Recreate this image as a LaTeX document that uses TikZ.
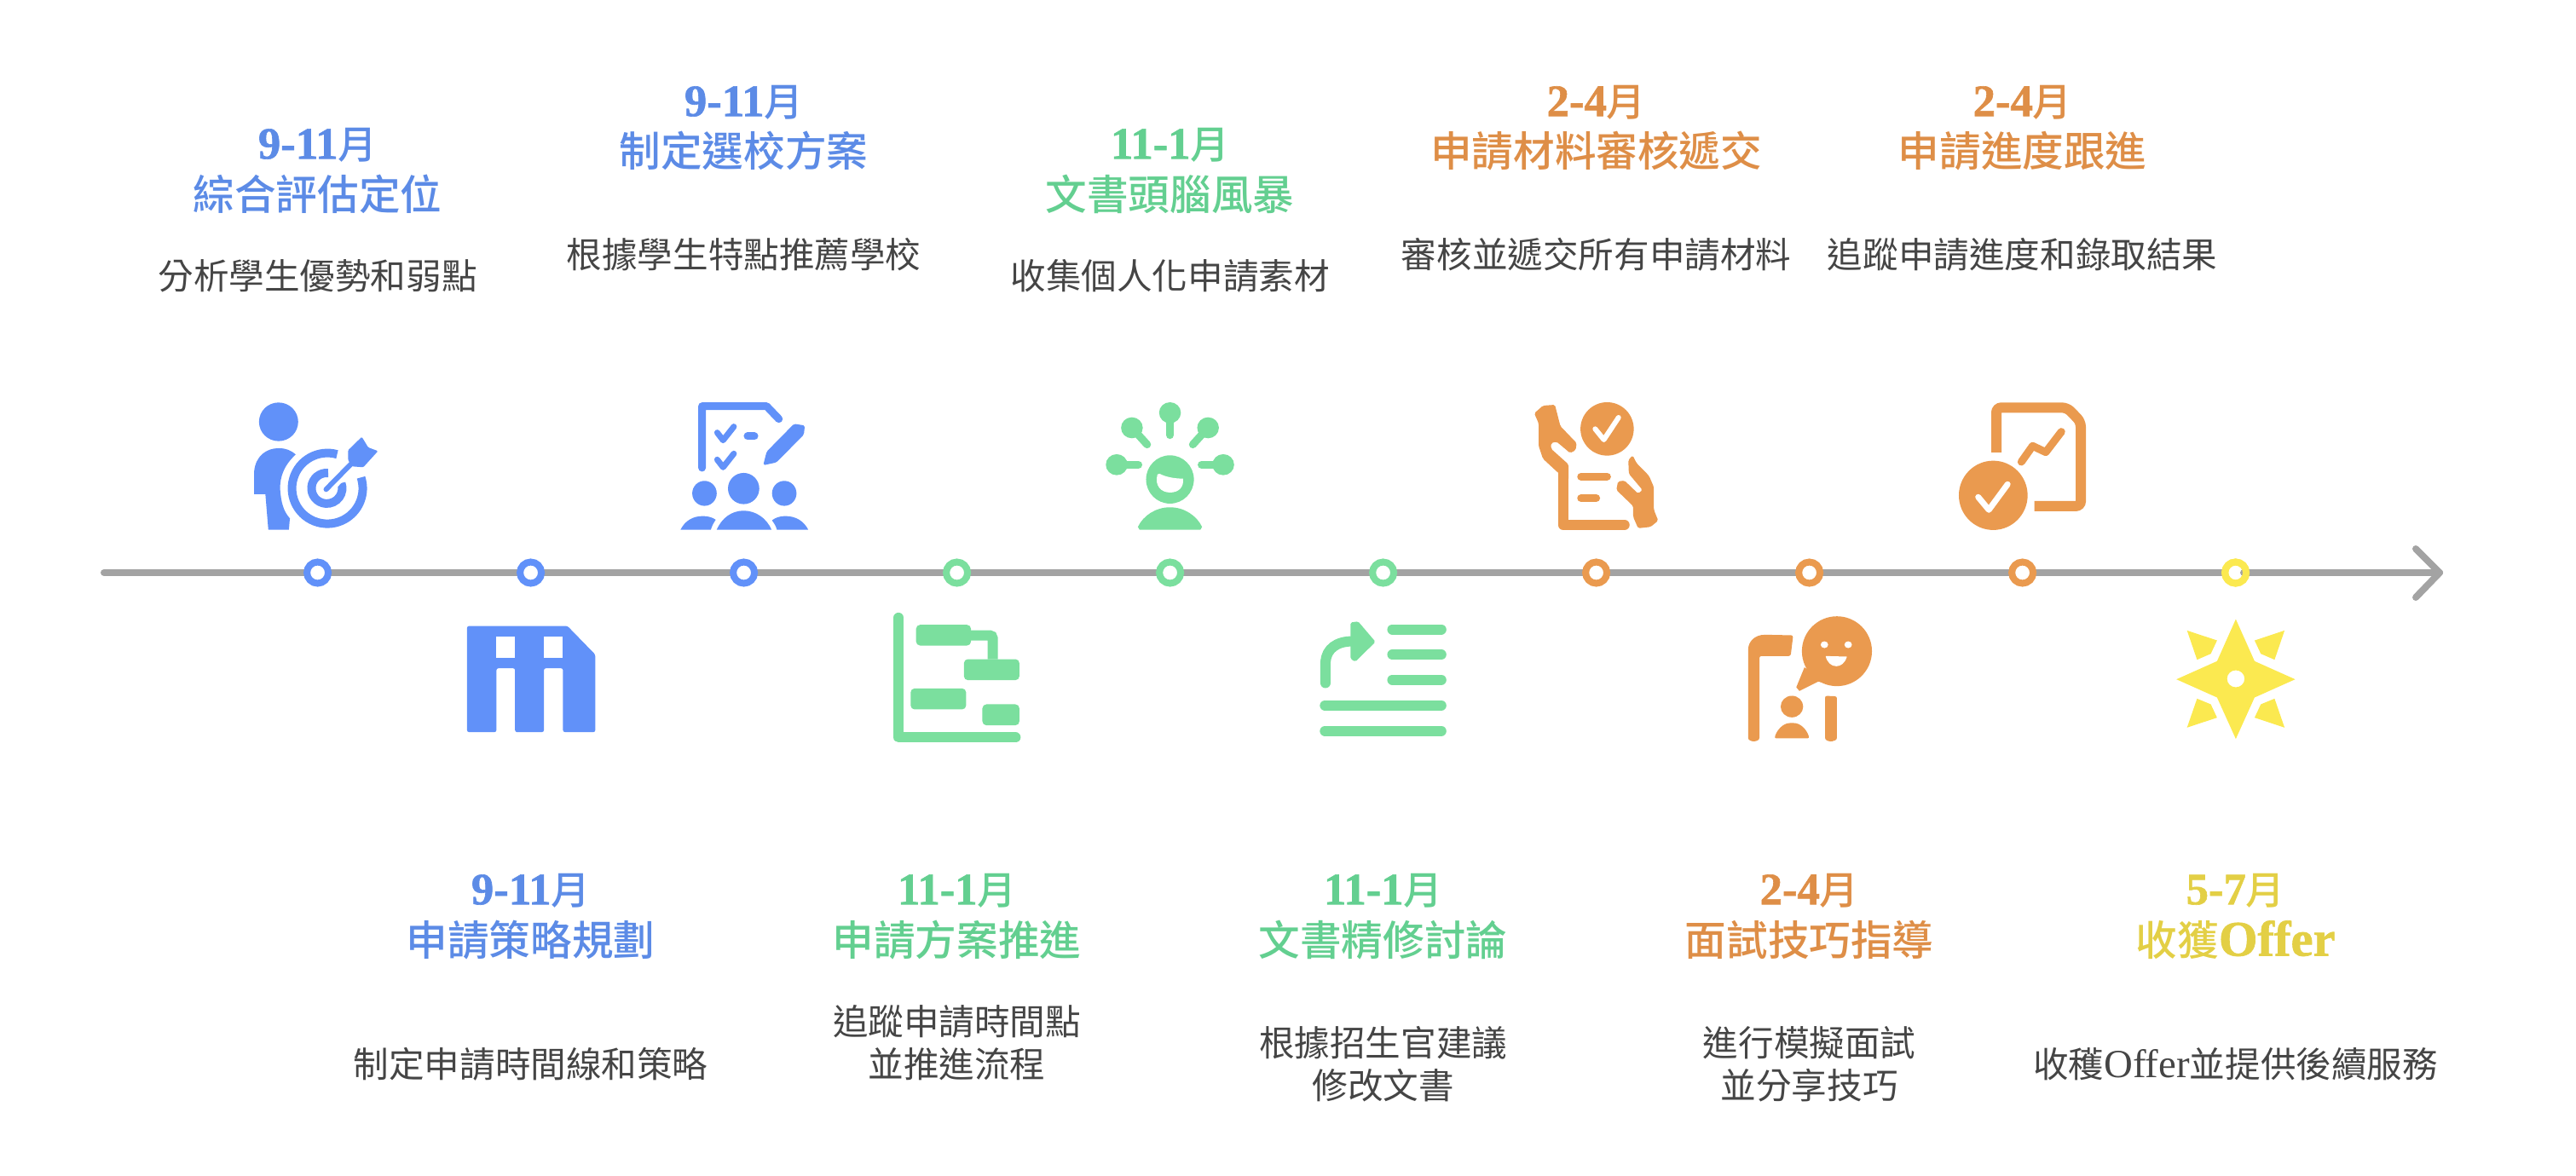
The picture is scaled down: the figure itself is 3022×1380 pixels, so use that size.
\documentclass[tikz,border=0pt]{standalone}
\usepackage{fontspec}
\setmainfont{Liberation Serif}
\newfontfamily\cjk{Noto Sans CJK TC}
\newfontfamily\cjkm{Noto Sans CJK TC Medium}
\newfontfamily\lat{Liberation Serif}
\newfontfamily\latb[BoldFeatures={FakeBold=1.2}]{Liberation Serif}
\definecolor{cb}{HTML}{6191F9}
\definecolor{cg}{HTML}{7BDF9E}
\definecolor{co}{HTML}{EA9A4F}
\definecolor{cy}{HTML}{FBE950}
\definecolor{tb}{HTML}{5C8BE6}
\definecolor{tg}{HTML}{63CF90}
\definecolor{to}{HTML}{DE8E47}
\definecolor{ty}{HTML}{E3CF45}
\definecolor{lg}{HTML}{A3A3A3}
\definecolor{txt}{HTML}{454545}
\newcommand{\dt}[1]{{\fontsize{45}{48}\selectfont\latb\bfseries #1\cjkm\mdseries\fontsize{39}{48}\selectfont 月}}
\tikzset{
 zA/.style={xshift=3cm,yshift=-13.2cm,x=0.01722cm,y=-0.01cm},
 zB/.style={xshift=30cm,yshift=-13.2cm,x=0.01914cm,y=-0.01cm},
 zC/.style={xshift=52.5cm,yshift=-13.2cm,x=0.0220cm,y=-0.01cm},
 st/.style={line width=#1*0.03cm,line cap=round,line join=round},
 datet/.style={inner sep=0,align=center,anchor=center,text=#1},
 titlet/.style={inner sep=0,align=center,anchor=center,text=#1,font=\fontsize{41.5}{50}\selectfont\cjkm},
 bodyt/.style={inner sep=0,align=center,anchor=center,text=txt,font=\fontsize{35.5}{42.7}\selectfont\cjk},
 ring/.style={circle,minimum size=25*0.03cm,inner sep=0,line width=0.24cm},
 timeline/.style={draw=lg,line width=0.24cm,line cap=round,line join=round}
}
\begin{document}
\begin{tikzpicture}[x=0.03cm,y=-0.03cm]
\useasboundingbox (0,0) rectangle (3022,1380);
% timeline
\coordinate (start) at (122,672);
\coordinate (tip) at (2862,672);
\coordinate (armA) at (2834,644);
\coordinate (armB) at (2834,701);
\coordinate (tailstart) at (2632,672);
\draw[timeline] (start) -- (tip);
\foreach \n/\x/\c in {n1/372.6/cb,n2/622.6/cb,n3/872.6/cb,n4/1122.6/cg,n5/1372.6/cg,n6/1622.6/cg,n7/1872.6/co,n8/2122.6/co,n9/2372.6/co,n10/2622.6/cy}
  \node[ring,draw=\c,fill=white] (\n) at (\x,672) {};
\draw[timeline] (tailstart) -- (tip);
\draw[timeline] (armA) -- (tip) -- (armB);
\node[ring,draw=cy] (n10r) at (n10) {};

% ---- icon 1
\begin{scope}[zA,fill=cb]
\fill (395,165) ellipse [x radius=40,y radius=68];
\fill (345,420) -- (345,340) .. controls (348,285) and (370,258) .. (395,258) .. controls (410,258) and (420,265) .. (430,280) .. controls (405,320) and (398,360) .. (398,400) .. controls (400,450) and (405,480) .. (418,505) -- (416,545) -- (374,545) -- (368,420) -- cycle;
\end{scope}
\draw[cb,line width=0.3cm] (395.5,533.2) arc[start angle=-74,end angle=-378,radius=41.5];
\draw[cb,line width=0.3cm] (385,555) arc[start angle=-85,end angle=-380,radius=18];
\begin{scope}[zA]
\draw[white,st=15] (492,403) -- (545,310);
\fill[white] (530,268) -- (565,205) -- (585,250) -- (610,268) -- (570,335) -- (540,332) -- cycle;
\draw[cb,st=6] (492,403) -- (545,310);
\fill[cb,rounded corners=1pt] (537,265) -- (565,218) -- (578,255) -- (598,268) -- (568,325) -- (545,322) -- (537,300) -- cycle;
\end{scope}

% ---- icon 2
\begin{scope}[zA]
\fill[cb,even odd rule,rounded corners=2pt] (780,884) -- (985,884) -- (1042,985) -- (1042,1258) -- (976,1258) -- (976,1033) -- (937,1033) -- (937,1258) -- (878,1258) -- (878,1033) -- (840,1033) -- (840,1258) -- (780,1258) -- cycle;
\fill[white] (840,921) rectangle (878,996);
\fill[white] (937,921) rectangle (976,996);
\end{scope}

% ---- icon 3
\begin{scope}[zA]
\draw[cb,st=9] (1260,327) -- (1260,110) -- (1392,110) -- (1417,155);
\draw[cb,st=7] (1291,203) -- (1303,230) -- (1325,182);
\draw[cb,st=7] (1291,298) -- (1303,325) -- (1325,277);
\draw[cb,st=9] (1353,216) -- (1367,216);
\fill[cb,rounded corners=1.5pt] (1448,172) -- (1470,178) -- (1468,210) -- (1412,308) -- (1385,318) -- (1392,270) -- cycle;
\fill[cb] (1345,400) ellipse [x radius=32,y radius=55];
\fill[cb] (1265,417) ellipse [x radius=25,y radius=44];
\fill[cb] (1428,417) ellipse [x radius=25,y radius=44];
\fill[cb] (1290,545) .. controls (1300,505) and (1320,478) .. (1345,478) .. controls (1370,478) and (1392,505) .. (1402,545) -- cycle;
\fill[cb] (1216,545) .. controls (1225,515) and (1240,497) .. (1262,497) .. controls (1272,497) and (1282,502) .. (1288,510) .. controls (1284,520) and (1280,532) .. (1278,545) -- cycle;
\fill[cb] (1477,545) .. controls (1468,515) and (1452,497) .. (1430,497) .. controls (1420,497) and (1410,502) .. (1403,512) .. controls (1407,522) and (1411,532) .. (1413,545) -- cycle;
\end{scope}

% ---- icon 4
\begin{scope}[zB]
\draw[cg,st=12] (85,855) -- (85,1277) -- (300,1277);
\draw[cg,line width=0.36cm,rounded corners=3pt] (218,917) -- (258,917) -- (258,1001);
\fill[cg,rounded corners=4pt] (117,880) rectangle (218,953);
\fill[cg,rounded corners=4pt] (205,1001) rectangle (307,1075);
\fill[cg,rounded corners=4pt] (107,1104) rectangle (209,1178);
\fill[cg,rounded corners=4pt] (239,1160) rectangle (307,1234);
\end{scope}

% ---- icon 5
\begin{scope}[zB]
\fill[cg] (584,133) ellipse [x radius=20,y radius=37];
\fill[cg] (514,186) ellipse [x radius=20,y radius=37];
\fill[cg] (654,186) ellipse [x radius=20,y radius=37];
\fill[cg] (486,316) ellipse [x radius=20,y radius=37];
\fill[cg] (682,316) ellipse [x radius=20,y radius=37];
\draw[cg,st=9] (584,133) -- (584,212);
\draw[cg,st=9] (514,186) -- (542,245);
\draw[cg,st=9] (654,186) -- (626,245);
\draw[cg,st=9] (486,316) -- (526,316);
\draw[cg,st=9] (682,316) -- (642,316);
\fill[cg] (584,368) ellipse [x radius=44,y radius=85];
\fill[white] (565,348) .. controls (575,358) and (590,365) .. (608,365) .. controls (610,395) and (600,414) .. (584,414) .. controls (568,414) and (555,390) .. (561,350) -- cycle;
\fill[cg] (525,535) .. controls (535,495) and (558,466) .. (584,466) .. controls (610,466) and (633,495) .. (643,535) -- (640,545) -- (528,545) -- cycle;
\end{scope}

% ---- icon 6
\begin{scope}[zB]
\foreach \y in {896,985,1074} \draw[cg,st=12] (993,\y) -- (1083,\y);
\foreach \y in {1164,1254} \draw[cg,st=12] (869,\y) -- (1083,\y);
\draw[cg,st=12] (870,1085) -- (870,1010) .. controls (872,965) and (890,938) .. (920,938);
\fill[cg,rounded corners=1.5pt] (916,872) -- (930,868) -- (962,940) -- (925,1010) -- (916,1000) -- cycle;
\end{scope}

% ---- icon 7
\begin{scope}[zB]
\fill[co] (1388,190) ellipse [x radius=49,y radius=94];
\draw[white,st=6] (1366,190) -- (1382,228) -- (1409,150);
\draw[co,st=12] (1307,335) -- (1307,528) -- (1420,528);
\draw[co,st=9] (1340,358) -- (1388,358);
\draw[co,st=9] (1340,434) -- (1368,434);
\fill[co,rounded corners=1.5pt] (1254,135) -- (1270,108) -- (1292,105) -- (1302,180) -- (1332,240) -- (1330,265) -- (1320,275) -- (1295,235) -- (1285,240) -- (1285,260) -- (1317,315) -- (1317,370) -- (1297,343) -- (1270,295) -- (1262,250) -- (1262,170) -- cycle;
\fill[co,rounded corners=1.5pt] (1427,300) -- (1435,283) -- (1442,310) -- (1465,355) -- (1474,395) -- (1474,475) -- (1482,513) -- (1468,535) -- (1445,540) -- (1436,500) -- (1436,462) -- (1405,405) -- (1408,375) -- (1420,372) -- (1445,418) -- (1453,405) -- (1428,348) -- cycle;
\end{scope}

% ---- icon 8
\begin{scope}[zC]
\fill[co,rounded corners=2pt] (410,1285) -- (410,975) .. controls (410,940) and (420,915) .. (440,915) -- (482,917) -- (478,990) -- (428,990) -- (428,1285) -- (419,1292) -- cycle;
\fill[co,rounded corners=2pt] (533,1130) -- (552,1132) -- (552,1285) -- (542,1292) -- (533,1285) -- cycle;
\fill[co] (480,1168) ellipse [x radius=18,y radius=38];
\fill[co,rounded corners=2pt] (452,1280) .. controls (456,1250) and (466,1226) .. (480,1226) .. controls (494,1226) and (504,1250) .. (508,1280) -- cycle;
\fill[co] (552,973) ellipse [x radius=56,y radius=123];
\fill[co] (500,1030) -- (487,1100) -- (492,1113) -- (522,1080) -- (545,1090) -- cycle;
\fill[white] (532,950) ellipse [x radius=6,y radius=12];
\fill[white] (570,950) ellipse [x radius=6,y radius=12];
\fill[white] (534,990) -- (568,992) .. controls (565,1015) and (558,1026) .. (551,1026) .. controls (543,1026) and (536,1012) .. (534,990) -- cycle;
\end{scope}

% ---- icon 9
\begin{scope}[zC]
\draw[co,line width=0.36cm,rounded corners=5pt] (807,273) -- (807,115) -- (920,115) -- (942,165) -- (942,462) -- (868,462);
\draw[co,st=9] (847,306) -- (865,250) -- (886,272) -- (911,200);
\fill[co] (802,424) ellipse [x radius=55,y radius=122];
\draw[white,st=7] (778,430) -- (795,475) -- (825,385);
\end{scope}

% ---- icon 10
\begin{scope}[zC]
\fill[cy,even odd rule] (1190,860) -- (1220,1008) -- (1285,1072) -- (1220,1136) -- (1190,1282) -- (1160,1136) -- (1095,1072) -- (1160,1008) -- cycle (1190,1070) ellipse [x radius=14,y radius=30];
\fill[cy] (1112,900) -- (1160,935) -- (1150,982) -- (1128,1003) -- cycle;
\fill[cy] (1268,900) -- (1220,935) -- (1230,982) -- (1252,1003) -- cycle;
\fill[cy] (1112,1242) -- (1160,1207) -- (1150,1160) -- (1128,1140) -- cycle;
\fill[cy] (1268,1242) -- (1220,1207) -- (1230,1160) -- (1252,1140) -- cycle;
\end{scope}

% ---- texts
\node[datet=tb] (d1) at (372.6,170) {\dt{9-11}};
\node[titlet=tb] (t1) at (372.6,228) {綜合評估定位};
\node[bodyt] (b1) at (372.6,324) {分析學生優勢和弱點};
\node[datet=tb] (d3) at (872.6,120) {\dt{9-11}};
\node[titlet=tb] (t3) at (872.6,177) {制定選校方案};
\node[bodyt] (b3) at (872.6,299) {根據學生特點推薦學校};
\node[datet=tg] (d5) at (1372.6,170) {\dt{11-1}};
\node[titlet=tg] (t5) at (1372.6,228) {文書頭腦風暴};
\node[bodyt] (b5) at (1372.6,324) {收集個人化申請素材};
\node[datet=to] (d7) at (1872.6,120) {\dt{2-4}};
\node[titlet=to] (t7) at (1872.6,177) {申請材料審核遞交};
\node[bodyt] (b7) at (1872.6,299) {審核並遞交所有申請材料};
\node[datet=to] (d9) at (2372.6,120) {\dt{2-4}};
\node[titlet=to] (t9) at (2372.6,177) {申請進度跟進};
\node[bodyt] (b9) at (2372.6,299) {追蹤申請進度和錄取結果};
\node[datet=tb] (d2) at (622.6,1045) {\dt{9-11}};
\node[titlet=tb] (t2) at (622.6,1103) {申請策略規劃};
\node[bodyt] (b2) at (622.6,1249) {制定申請時間線和策略};
\node[datet=tg] (d4) at (1122.6,1045) {\dt{11-1}};
\node[titlet=tg] (t4) at (1122.6,1103) {申請方案推進};
\node[bodyt] (b4) at (1122.6,1224) {追蹤申請時間點\\並推進流程};
\node[datet=tg] (d6) at (1622.6,1045) {\dt{11-1}};
\node[titlet=tg] (t6) at (1622.6,1103) {文書精修討論};
\node[bodyt] (b6) at (1622.6,1249) {根據招生官建議\\修改文書};
\node[datet=to] (d8) at (2122.6,1045) {\dt{2-4}};
\node[titlet=to] (t8) at (2122.6,1103) {面試技巧指導};
\node[bodyt] (b8) at (2122.6,1249) {進行模擬面試\\並分享技巧};
\node[datet=ty] (d10) at (2622.6,1045) {\dt{5-7}};
\node[titlet=ty] (t10) at (2622.6,1103) {收獲{\latb\bfseries\fontsize{50}{50}\selectfont Offer}};
\node[bodyt] (b10) at (2622.6,1249) {收穫{\lat\fontsize{40}{42}\selectfont Offer}並提供後續服務};
\end{tikzpicture}
\end{document}
